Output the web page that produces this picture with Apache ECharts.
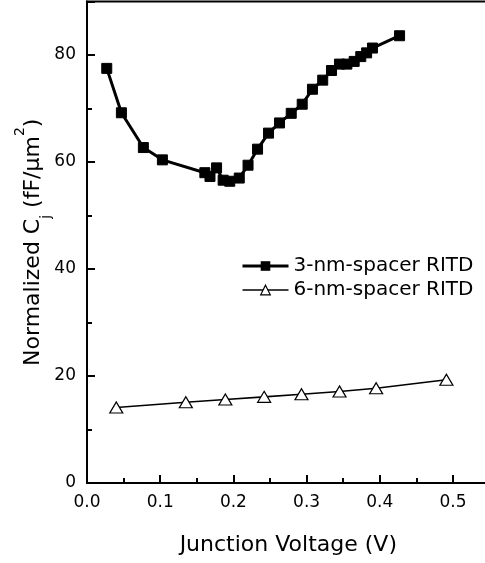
<!DOCTYPE html>
<html>
<head>
<meta charset="utf-8">
<script src="https://cdn.jsdelivr.net/npm/echarts@6/dist/echarts.min.js"></script>
<style>html,body{margin:0;padding:0;background:#fff}#c{width:485px;height:563px}</style>
</head>
<body>
<div id="c"></div>
<script>
// 3-nm-spacer RITD
const v3 = [0.027,0.047,0.077,0.103,0.161,0.168,0.177,0.186,0.195,0.208,0.220,0.233,0.248,0.263,0.279,0.294,0.308,0.322,0.334,0.345,0.355,0.365,0.374,0.382,0.390,0.427];
const c3 = [77.5,69.2,62.7,60.4,58.0,57.3,58.9,56.6,56.4,57.0,59.4,62.4,65.4,67.3,69.1,70.8,73.6,75.3,77.1,78.3,78.3,78.8,79.7,80.4,81.3,83.6];
// 6-nm-spacer RITD
const v6 = [0.040,0.135,0.189,0.242,0.293,0.345,0.395,0.491];
const c6 = [14.1,15.1,15.6,16.1,16.6,17.1,17.7,19.3];
const names = ['3-nm-spacer RITD','6-nm-spacer RITD'];
const xTitle = 'Junction Voltage (V)';

const FONT = 'DejaVu Sans';
const chart = echarts.init(document.getElementById('c'), null, {renderer:'canvas'});
chart.setOption({
  animation:false,
  backgroundColor:'#fff',
  textStyle:{fontFamily:FONT,color:'#000'},
  grid:{left:87,top:1.5,bottom:80,right:-4.6,show:true,borderColor:'#000',borderWidth:2,
        containLabel:false,outerBoundsMode:'none'},
  legend:{
    orient:'vertical',left:236,top:251,itemWidth:46,itemHeight:12,itemGap:4,
    textStyle:{fontFamily:FONT,fontSize:20,color:'#000'},
    data:[
      {name:names[0],lineStyle:{color:'#000',width:3},itemStyle:{color:'#000'}},
      {name:names[1],lineStyle:{color:'#000',width:1.6},itemStyle:{color:'#fff',borderColor:'#000',borderWidth:1.2}}
    ]
  },
  xAxis:{
    type:'value',min:0,max:0.55,interval:0.1,
    name:xTitle,nameLocation:'middle',nameGap:51,nameMoveOverlap:false,
    nameTextStyle:{fontFamily:FONT,fontSize:22,color:'#000'},
    axisLine:{show:true,onZero:false,lineStyle:{color:'#000',width:2}},
    axisTick:{show:true,inside:true,length:8,lineStyle:{color:'#000',width:2}},
    minorTick:{show:true,splitNumber:2,length:5,lineStyle:{color:'#000',width:2}},
    axisLabel:{fontFamily:FONT,fontSize:17,color:'#000',margin:11,showMaxLabel:false,formatter:v=>v.toFixed(1)},
    splitLine:{show:false}
  },
  yAxis:{
    type:'value',min:0,max:90,interval:20,
    name:'Normalized C{sub|j} (fF/µm{sup|2})',nameLocation:'middle',nameGap:43,nameMoveOverlap:false,
    nameTextStyle:{fontFamily:FONT,fontSize:22,color:'#000',
      rich:{sub:{fontFamily:FONT,fontSize:14,color:'#000',verticalAlign:'bottom',padding:[0,0,-9,0]},
            sup:{fontFamily:FONT,fontSize:14,color:'#000',verticalAlign:'top',padding:[-9,0,0,0]}}},
    axisLine:{show:true,lineStyle:{color:'#000',width:2}},
    axisTick:{show:true,inside:true,length:8,lineStyle:{color:'#000',width:2}},
    minorTick:{show:true,splitNumber:2,length:5,lineStyle:{color:'#000',width:2}},
    axisLabel:{fontFamily:FONT,fontSize:17,color:'#000',margin:11,showMaxLabel:false},
    splitLine:{show:false}
  },
  series:[
    {name:names[0],type:'line',data:v3.map((v,i)=>[v,c3[i]]),
     symbol:'rect',symbolSize:10,
     lineStyle:{color:'#000',width:3},itemStyle:{color:'#000',borderColor:'#000'}},
    {name:names[1],type:'line',data:v6.map((v,i)=>[v,c6[i]]),
     symbol:'triangle',symbolSize:[13,11],
     lineStyle:{color:'#000',width:1.6},itemStyle:{color:'#fff',borderColor:'#000',borderWidth:1.2}}
  ]
});
</script>
</body>
</html>
